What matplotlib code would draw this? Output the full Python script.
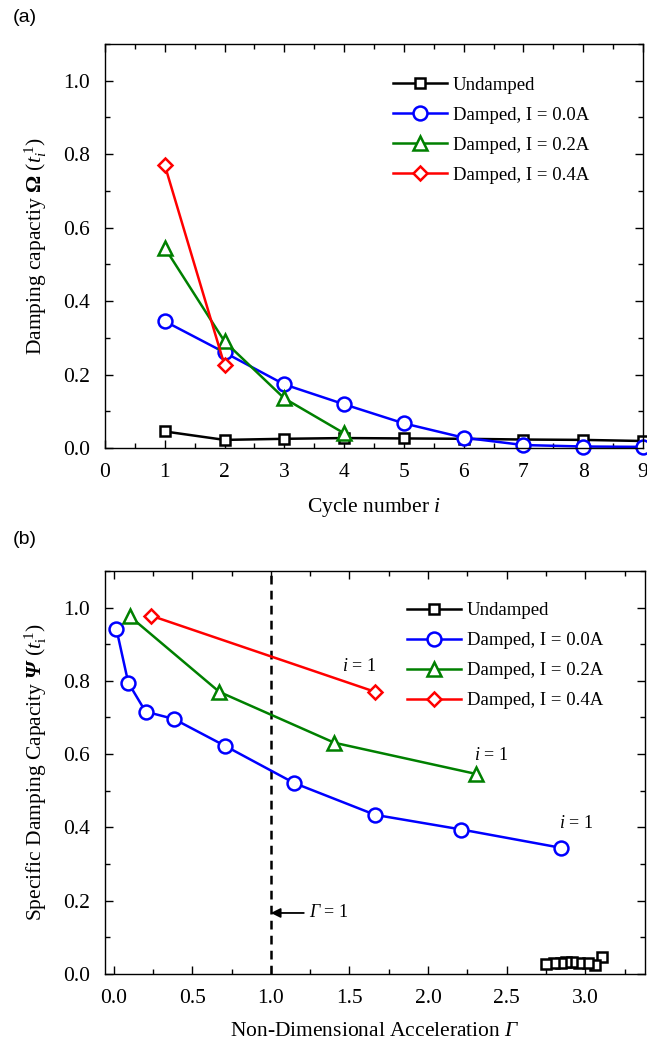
import matplotlib
matplotlib.use('Agg')
import matplotlib.pyplot as plt
from matplotlib.ticker import MultipleLocator

plt.rcParams['font.family'] = ['Liberation Serif', 'DejaVu Serif']
plt.rcParams['mathtext.fontset'] = 'custom'
plt.rcParams['mathtext.rm'] = 'Liberation Serif'
plt.rcParams['mathtext.it'] = 'Liberation Serif:italic'
plt.rcParams['mathtext.bf'] = 'Liberation Serif:bold'
plt.rcParams['mathtext.bfit'] = 'Liberation Serif:bold:italic'
plt.rcParams['mathtext.cal'] = 'Liberation Serif:italic'
plt.rcParams['font.size'] = 15.5

# (a) damping capacity per cycle
cycles = [1, 2, 3, 4, 5, 6, 7, 8, 9]
undamped_a = [0.045, 0.022, 0.025, 0.027, 0.026, 0.025, 0.023, 0.022, 0.019]
damped00_a = [0.345, 0.260, 0.173, 0.119, 0.067, 0.028, 0.008, 0.004, 0.003]
damped02_a = [0.545, 0.290, 0.135, 0.040]
damped04_a = [0.770, 0.225]

# (b) specific damping capacity vs non-dimensional acceleration
gamma_und = [3.105, 3.062, 3.020, 2.959, 2.917, 2.880, 2.843, 2.804, 2.751]
psi_und = [0.046, 0.024, 0.028, 0.030, 0.031, 0.031, 0.030, 0.029, 0.026]
gamma_00 = [2.846, 2.212, 1.664, 1.148, 0.706, 0.383, 0.203, 0.093, 0.017]
psi_00 = [0.344, 0.394, 0.434, 0.521, 0.623, 0.696, 0.716, 0.795, 0.943]
gamma_02 = [2.303, 1.404, 0.672, 0.101]
psi_02 = [0.546, 0.631, 0.770, 0.977]
gamma_04 = [1.664, 0.239]
psi_04 = [0.770, 0.978]

labels = ['Undamped', 'Damped, I = 0.0A', 'Damped, I = 0.2A', 'Damped, I = 0.4A']
colors = ['black', 'blue', 'green', 'red']
markers = ['s', 'o', '^', 'D']
msizes = [7, 10, 9.5, 7.5]

fig = plt.figure(figsize=(6.47, 10.44), dpi=100)
ax1 = fig.add_axes([0.1623, 0.5709, 0.8315, 0.387])
ax2 = fig.add_axes([0.1623, 0.0673, 0.8346, 0.3857])


def style(ax):
    ax.tick_params(which='both', direction='in', top=True, right=True,
                   width=1.0, labelsize=15.5)
    ax.tick_params(which='major', length=6, pad=11)
    ax.tick_params(which='minor', length=3.6)
    for s in ax.spines.values():
        s.set_linewidth(1.0)
    ax.yaxis.set_major_locator(MultipleLocator(0.2))
    ax.yaxis.set_minor_locator(MultipleLocator(0.1))
    ax.yaxis.set_major_formatter(plt.FormatStrFormatter('%.1f'))


legend_kw = dict(loc='upper left', frameon=False, fontsize=13.5, handlelength=2.9,
                 handletextpad=0.3, labelspacing=0.69, borderpad=0, borderaxespad=0)

series_a = [undamped_a, damped00_a, damped02_a, damped04_a]
for vals, lab, c, m, ms in zip(series_a, labels, colors, markers, msizes):
    ax1.plot(cycles[:len(vals)], vals, color=c, marker=m, ms=ms, mfc='white',
             mec=c, mew=1.8, lw=1.8, label=lab, clip_on=False)
ax1.set_xlim(0, 9)
ax1.set_ylim(0, 1.1)
ax1.xaxis.set_major_locator(MultipleLocator(1))
ax1.xaxis.set_minor_locator(MultipleLocator(0.5))
style(ax1)
ax1.set_xlabel('Cycle number $i$', labelpad=10)
ax1.set_ylabel(r'Damping capactiy $\mathbf{\Omega}$ $(t_i^{\,1})$', labelpad=10)
ax1.legend(bbox_to_anchor=(0.535, 0.919), **legend_kw)

series_b = [(gamma_und, psi_und), (gamma_00, psi_00), (gamma_02, psi_02),
            (gamma_04, psi_04)]
for (gx, py), lab, c, m, ms in zip(series_b, labels, colors, markers, msizes):
    ax2.plot(gx, py, color=c, marker=m, ms=ms, mfc='white',
             mec=c, mew=1.8, lw=1.8, label=lab, clip_on=False)
ax2.axvline(1.0, color='black', lw=1.8, ls=(0, (3.5, 2.5)), zorder=1)
ax2.annotate(r'$\mathcal{\Gamma}$ = 1', xy=(1.0, 0.166), xytext=(1.245, 0.166),
             fontsize=13, va='center', ha='left',
             arrowprops=dict(arrowstyle='-|>', color='black', lw=1.3,
                             shrinkA=2, shrinkB=0, mutation_scale=14))
ax2.text(1.56, 0.839, '$i$ = 1', fontsize=13, ha='center', va='center')
ax2.text(2.40, 0.597, '$i$ = 1', fontsize=13, ha='center', va='center')
ax2.text(2.944, 0.41, '$i$ = 1', fontsize=13, ha='center', va='center')
ax2.set_xlim(-0.055, 3.38)
ax2.set_ylim(0, 1.1)
ax2.xaxis.set_major_locator(MultipleLocator(0.5))
ax2.xaxis.set_minor_locator(MultipleLocator(0.25))
style(ax2)
ax2.set_xlabel(r'Non-Dimensional Acceleration $\mathcal{\Gamma}$', labelpad=10)
ax2.set_ylabel(r'Specific Damping Capacity $\mathbfit{\Psi}$ $(t_{\mathrm{i}}^{\,1})$',
               labelpad=10)
ax2.legend(bbox_to_anchor=(0.559, 0.923), **legend_kw)

fig.text(0.019, 0.983, '(a)', family='Liberation Sans', fontsize=14, va='center')
fig.text(0.019, 0.483, '(b)', family='Liberation Sans', fontsize=14, va='center')

fig.savefig('out.png', dpi=100)
